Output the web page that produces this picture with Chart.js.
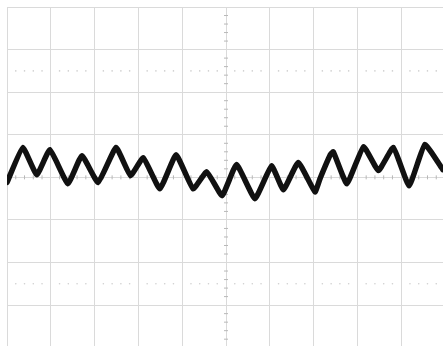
<!DOCTYPE html>
<html lang="en">
<head>
  <meta charset="UTF-8" />
  <title>Scope trace</title>
  <script src="https://cdn.jsdelivr.net/npm/chart.js@4.4.0/dist/chart.umd.min.js"></script>
  <style>
    body {
      margin: 0;
      background: #ffffff;
    }
    .box {
      position: relative;
      width: 443px;
      height: 346px;
    }
  </style>
</head>
<body>
  <div class="box">
    <canvas id="scope"></canvas>
  </div>

  <script>
    // trace, in divisions (x: time div, y: volts div)
    const traceTime = [0, 0.36, 0.68, 0.98, 1.39, 1.71, 2.08, 2.49, 2.82, 3.11, 3.49, 3.86, 4.25, 4.56, 4.91,
      5.24, 5.66, 6.04, 6.31, 6.65, 7.03, 7.15, 7.38, 7.45, 7.76, 8.14, 8.48, 8.82, 9.18, 9.54, 9.95];
    const traceVolts = [-0.12, 0.70, 0.06, 0.65, -0.15, 0.51, -0.12, 0.70, 0.04, 0.46, -0.27, 0.53, -0.27, 0.13, -0.43,
      0.30, -0.50, 0.27, -0.29, 0.35, -0.34, -0.02, 0.53, 0.60, -0.15, 0.72, 0.16, 0.70, -0.20, 0.77, 0.18];

    // graticule
    const xTicks = [0, 1, 2, 3, 4, 5, 6, 7, 8, 9];
    const yTicks = [-3, -2, -1, 0, 1, 2, 3, 4];
    const minorSteps = [0.2, 0.4, 0.6, 0.8];
    const dottedRows = [2.5, -2.5];

    const gridColor = '#dadada';

    const trace = traceTime.map((t, i) => ({ x: t, y: traceVolts[i] }));

    // small tick marks on the centre axes
    const hMarks = [];
    xTicks.forEach(d => minorSteps.forEach(s => hMarks.push({ x: d + s, y: 0 })));
    const vMarks = [];
    [-4, -3, -2, -1, 0, 1, 2, 3].forEach(d => minorSteps.forEach(s => vMarks.push({ x: 5, y: d + s })));
    // dotted rows
    const dots = [];
    dottedRows.forEach(r => xTicks.forEach(d => minorSteps.forEach(s => dots.push({ x: d + s, y: r }))));

    new Chart(document.getElementById('scope'), {
      type: 'scatter',
      data: {
        datasets: [{
          data: trace,
          showLine: true,
          borderColor: '#111111',
          borderWidth: 5.5,
          borderJoinStyle: 'round',
          borderCapStyle: 'round',
          pointRadius: 0,
          tension: 0.12
        }, {
          data: hMarks,
          pointStyle: 'line',
          rotation: 90,
          pointRadius: 2,
          borderWidth: 1,
          borderColor: '#b8b8b8'
        }, {
          data: vMarks,
          pointStyle: 'line',
          pointRadius: 2,
          borderWidth: 1,
          borderColor: '#b8b8b8'
        }, {
          data: dots,
          pointStyle: 'circle',
          pointRadius: 0.8,
          borderWidth: 0,
          backgroundColor: '#cfcfcf'
        }]
      },
      options: {
        responsive: true,
        maintainAspectRatio: false,
        animation: false,
        layout: { autoPadding: false, padding: { left: 7, top: 7, right: 0, bottom: 0 } },
        plugins: {
          legend: { display: false },
          tooltip: { enabled: false }
        },
        scales: {
          x: {
            type: 'linear',
            min: 0,
            max: 9.954,
            afterBuildTicks: s => { s.ticks = xTicks.map(v => ({ value: v })); },
            ticks: { display: false },
            grid: { color: gridColor, drawTicks: false },
            border: { display: false }
          },
          y: {
            type: 'linear',
            min: -3.96,
            max: 4,
            afterBuildTicks: s => { s.ticks = yTicks.map(v => ({ value: v })); },
            ticks: { display: false },
            grid: { color: gridColor, drawTicks: false },
            border: { display: false }
          }
        }
      }
    });
  </script>
</body>
</html>
